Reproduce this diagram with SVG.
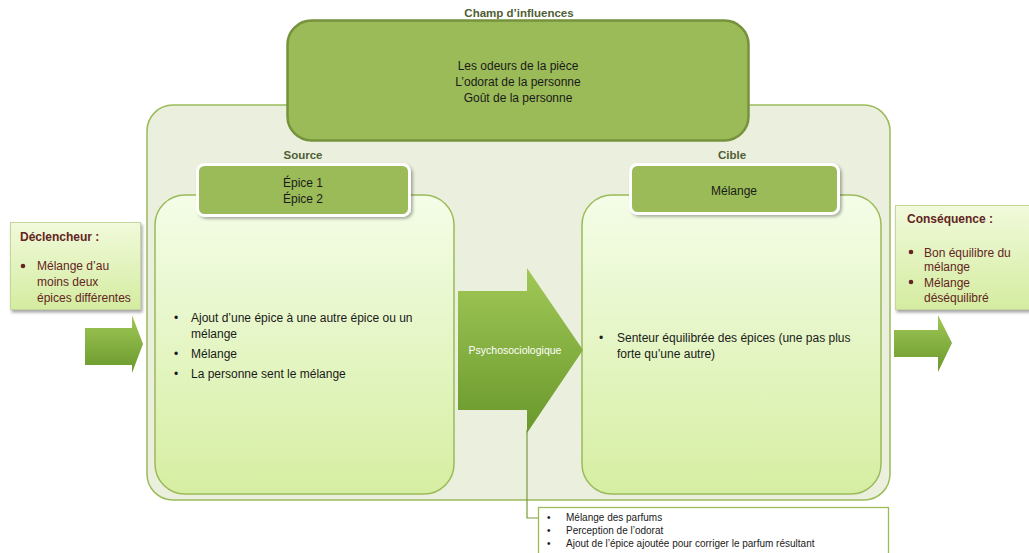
<svg xmlns="http://www.w3.org/2000/svg" width="1029" height="553" viewBox="0 0 1029 553">
<defs>
<linearGradient id="bodyG" x1="0" y1="0" x2="0" y2="1">
<stop offset="0" stop-color="#f4fde8"/><stop offset="1" stop-color="#d6eea2"/>
</linearGradient>
<linearGradient id="sideG" x1="0" y1="0" x2="0" y2="1">
<stop offset="0" stop-color="#f1fadb"/><stop offset="1" stop-color="#d4eca0"/>
</linearGradient>
<linearGradient id="arrG" x1="0" y1="0" x2="0" y2="1">
<stop offset="0" stop-color="#a0c857"/><stop offset="1" stop-color="#6a982c"/>
</linearGradient>
<filter id="sh" x="-10%" y="-10%" width="130%" height="140%">
<feDropShadow dx="1.5" dy="2.5" stdDeviation="1.5" flood-color="#000" flood-opacity="0.35"/>
</filter>
<filter id="sh2" x="-10%" y="-10%" width="130%" height="140%">
<feDropShadow dx="2" dy="2" stdDeviation="1.5" flood-color="#000" flood-opacity="0.3"/>
</filter>
</defs>
<style>
text{font-family:"Liberation Sans",Arial,sans-serif;}
.t{font-size:12px;fill:#1a1a1a;}
.lbl{font-size:11.5px;font-weight:bold;fill:#4f5e34;}
.red{font-size:12px;fill:#632423;}
.redb{font-size:12px;font-weight:bold;fill:#632423;}
.sm{font-size:10px;fill:#1a1a1a;}
.hdr{fill:#9bbb59;stroke:#fff;stroke-width:3;}
.body{fill:url(#bodyG);stroke:#9bbb59;stroke-width:1.5;}
.dot{fill:#632423;}
</style>

<g id="container">
<rect x="147" y="105" width="743" height="395" rx="26" fill="#ebf0de" stroke="#9bbb59" stroke-width="1.5"/>
</g>

<g id="champ">
<text class="lbl" x="519" y="17" text-anchor="middle">Champ d’influences</text>
<rect x="287.5" y="20.5" width="461" height="120" rx="24" fill="#9bbb59" stroke="#76923c" stroke-width="2.5"/>
<text class="t" x="518" y="70" text-anchor="middle">Les odeurs de la pièce</text>
<text class="t" x="518" y="86" text-anchor="middle">L’odorat de la personne</text>
<text class="t" x="518" y="102" text-anchor="middle">Goût de la personne</text>
</g>

<g id="connectors">
<polyline points="527,430 527,518 538,518" fill="none" stroke="#7a9a3c" stroke-width="1.2"/>
</g>

<g id="source">
<text class="lbl" x="303" y="159" text-anchor="middle">Source</text>
<rect class="body" x="155" y="195" width="299" height="299" rx="30"/>
<rect class="hdr" x="197.5" y="164.5" width="212" height="51" rx="7" filter="url(#sh2)"/>
<text class="t" x="303" y="187" text-anchor="middle">Épice 1</text>
<text class="t" x="303" y="203" text-anchor="middle">Épice 2</text>
<text class="t" x="174" y="322">•</text>
<text class="t" x="191" y="322">Ajout d’une épice à une autre épice ou un</text>
<text class="t" x="191" y="338">mélange</text>
<text class="t" x="174" y="358">•</text>
<text class="t" x="191" y="358">Mélange</text>
<text class="t" x="174" y="378">•</text>
<text class="t" x="191" y="378">La personne sent le mélange</text>
</g>

<g id="cible">
<text class="lbl" x="732" y="159" text-anchor="middle">Cible</text>
<rect class="body" x="582" y="195" width="299" height="299" rx="30"/>
<rect class="hdr" x="630.5" y="164.5" width="208" height="49" rx="7" filter="url(#sh2)"/>
<text class="t" x="734" y="195" text-anchor="middle">Mélange</text>
<text class="t" x="599" y="342">•</text>
<text class="t" x="617" y="342">Senteur équilibrée des épices (une pas plus</text>
<text class="t" x="617" y="358">forte qu’une autre)</text>
</g>

<g id="psycho">
<polygon points="458,291 527,291 527,268 583,350 527,433 527,410 458,410" fill="url(#arrG)"/>
<text x="515" y="354" text-anchor="middle" style="font-size:10.5px;fill:#fff;">Psychosociologique</text>
</g>

<g id="declencheur">
<rect x="10.5" y="222.5" width="130" height="87" fill="url(#sideG)" stroke="#c3d69b" stroke-width="1" filter="url(#sh)"/>
<text class="redb" x="20" y="241">Déclencheur :</text>
<circle class="dot" cx="23" cy="266" r="2.3"/>
<text class="red" x="37" y="270">Mélange d’au</text>
<text class="red" x="37" y="286">moins deux</text>
<text class="red" x="37" y="302">épices différentes</text>
</g>

<g id="arrowLeft">
<polygon points="85,328 132,328 132,315 143,344 132,373 132,365 85,365" fill="url(#arrG)"/>
</g>

<g id="consequence">
<rect x="895.5" y="205.5" width="140" height="104" fill="url(#sideG)" stroke="#c3d69b" stroke-width="1" filter="url(#sh)"/>
<text class="redb" x="907" y="223">Conséquence :</text>
<circle class="dot" cx="911" cy="252" r="2.3"/>
<text class="red" x="924" y="257">Bon équilibre du</text>
<text class="red" x="924" y="271">mélange</text>
<circle class="dot" cx="911" cy="282" r="2.3"/>
<text class="red" x="924" y="287">Mélange</text>
<text class="red" x="924" y="302">déséquilibré</text>
</g>

<g id="arrowRight">
<polygon points="894,330 938,330 938,315 952,343 938,372 938,357 894,357" fill="url(#arrG)"/>
</g>

<g id="bottomBox">
<rect x="538.5" y="507.5" width="350" height="60" fill="#fff" stroke="#9bbb59" stroke-width="1.3"/>
<text class="sm" x="547" y="521">•</text>
<text class="sm" x="566" y="521">Mélange des parfums</text>
<text class="sm" x="547" y="534">•</text>
<text class="sm" x="566" y="534">Perception de l’odorat</text>
<text class="sm" x="547" y="547">•</text>
<text class="sm" x="566" y="547">Ajout de l’épice ajoutée pour corriger le parfum résultant</text>
</g>
</svg>
